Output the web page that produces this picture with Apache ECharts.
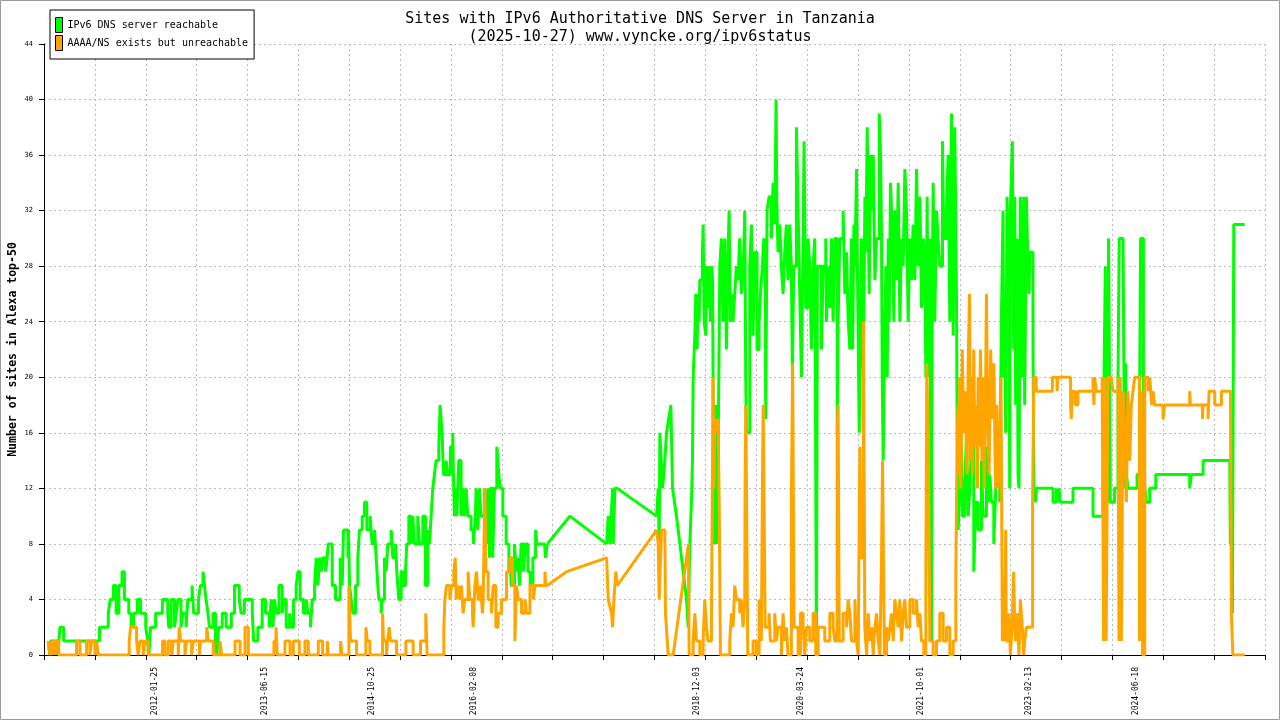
<!DOCTYPE html>
<html><head><meta charset="utf-8">
<script src="https://cdn.jsdelivr.net/npm/echarts@6/dist/echarts.min.js"></script>
<style>html,body{margin:0;padding:0;background:#fff}#c{width:1280px;height:720px}</style>
</head><body><div id="c"></div>
<script>
// ---- data (x = decimal year, y = number of sites) ----
const titleLines = ['Sites with IPv6 Authoritative DNS Server in Tanzania', '(2025-10-27) www.vyncke.org/ipv6status'];
const seriesNames = ['IPv6 DNS server reachable', 'AAAA/NS exists but unreachable'];
const yAxisName = 'Number of sites in Alexa top-50';
const xLabels = ['2012-01-25','2013-06-15','2014-10-25','2016-02-08','2018-12-03','2020-03-24','2021-10-01','2023-02-13','2024-06-18'];
const xRange = [2010.663, 2026.097];
const xTickCount = 24;
const yMin = 0, yMax = 44, yStep = 4;

const greenA = [2010.717,1, 2010.735,0, 2010.745,1, 2010.798,1, 2010.802,0, 2010.812,1, 2010.840,0, 2010.850,1, 2010.865,2, 2010.912,1, 2011.365,2, 2011.476,3, 2011.500,4, 2011.540,5, 2011.575,3, 2011.610,5, 2011.650,6, 2011.680,4, 2011.735,3, 2011.765,2, 2011.795,3, 2011.845,4, 2011.885,3, 2011.950,2, 2011.975,1, 2011.990,0, 2012.010,2, 2012.075,3, 2012.160,4, 2012.228,3, 2012.240,2, 2012.270,4, 2012.312,2, 2012.335,3, 2012.355,4, 2012.395,2, 2012.418,3, 2012.460,2, 2012.480,4, 2012.535,5, 2012.555,3, 2012.615,4, 2012.640,5, 2012.672,6, 2012.690,5, 2012.712,4, 2012.735,3, 2012.755,2, 2012.798,3, 2012.830,1, 2012.848,0, 2012.870,2, 2012.915,3, 2012.965,2, 2013.030,3, 2013.070,5, 2013.130,4, 2013.155,3, 2013.195,4, 2013.266,4, 2013.295,3, 2013.312,1, 2013.365,2, 2013.420,4, 2013.462,3, 2013.512,2, 2013.535,4, 2013.555,2, 2013.576,4, 2013.598,3, 2013.632,5, 2013.674,3, 2013.695,4, 2013.724,2, 2013.767,3, 2013.788,2, 2013.817,4, 2013.850,5, 2013.872,6, 2013.900,4, 2013.943,3, 2013.977,4, 2013.998,3, 2014.032,2, 2014.053,4, 2014.083,5, 2014.104,7, 2014.125,5, 2014.146,7, 2014.167,6, 2014.188,7, 2014.222,6, 2014.243,7, 2014.255,8, 2014.306,5, 2014.348,4, 2014.407,7, 2014.432,5, 2014.449,9, 2014.504,7, 2014.512,9, 2014.525,5, 2014.546,4, 2014.567,3, 2014.601,5, 2014.630,7, 2014.651,9, 2014.685,10, 2014.714,11, 2014.744,9, 2014.786,10, 2014.811,8, 2014.841,9, 2014.862,7, 2014.883,5, 2014.896,4, 2014.925,3, 2014.938,4, 2014.967,7, 2014.988,6, 2015.009,8, 2015.052,9, 2015.073,7, 2015.106,8, 2015.123,6, 2015.148,4, 2015.178,6, 2015.207,5, 2015.233,6, 2015.249,8, 2015.275,10, 2015.304,8, 2015.325,10, 2015.346,8, 2015.388,10, 2015.410,8, 2015.452,10, 2015.485,5, 2015.515,9, 2015.536,8, 2015.557,10, 2015.578,12, 2015.599,13, 2015.620,14, 2015.654,15, 2015.671,18, 2015.696,16, 2015.713,13, 2015.747,14, 2015.768,13, 2015.801,15, 2015.831,16, 2015.839,13, 2015.852,10, 2015.873,12, 2015.882,10, 2015.907,14, 2015.936,10, 2015.957,12, 2015.978,10, 2016.000,12, 2016.020,10, 2016.062,9, 2016.092,8, 2016.117,10, 2016.126,12, 2016.147,9, 2016.168,12, 2016.189,10, 2016.231,12, 2016.252,8, 2016.273,12, 2016.294,7, 2016.307,12, 2016.336,7, 2016.357,12, 2016.387,15, 2016.412,13, 2016.429,12, 2016.463,10, 2016.505,8, 2016.539,6, 2016.555,7, 2016.568,5, 2016.610,8, 2016.631,6, 2016.652,7, 2016.673,5, 2016.694,8, 2016.724,6, 2016.749,8, 2016.779,6, 2016.808,5, 2016.842,7, 2016.876,9, 2016.892,8, 2016.989,8, 2017.002,7, 2017.024,8];
const greenB = [2017.024,8, 2017.310,10, 2017.774,8, 2017.795,10, 2017.816,8, 2017.850,12, 2017.858,8, 2017.879,12, 2017.908,12, 2018.406,10, 2018.427,12, 2018.439,8, 2018.448,16, 2018.481,12, 2018.511,14, 2018.532,16, 2018.587,18, 2018.608,12, 2018.658,10, 2018.701,8, 2018.743,6, 2018.785,4, 2018.806,2, 2018.827,8];
const greenC = [2018.827,8, 2018.847,11, 2018.860,14, 2018.869,20, 2018.890,23, 2018.902,26, 2018.911,24, 2018.919,22, 2018.932,26, 2018.944,24, 2018.953,27, 2018.986,29, 2018.995,31, 2019.008,24, 2019.029,23, 2019.037,28, 2019.058,25, 2019.071,28, 2019.088,24, 2019.104,28, 2019.115,27, 2019.121,20, 2019.128,8, 2019.142,12, 2019.155,18, 2019.163,8, 2019.184,14, 2019.206,28, 2019.227,30, 2019.248,24, 2019.269,30, 2019.290,22, 2019.311,29, 2019.324,32, 2019.340,24, 2019.353,26, 2019.374,24, 2019.395,26, 2019.416,28, 2019.437,27, 2019.458,30, 2019.479,26, 2019.500,28, 2019.509,29, 2019.522,32, 2019.534,20, 2019.543,16, 2019.564,16, 2019.585,28, 2019.606,31, 2019.627,23, 2019.648,29, 2019.677,22, 2019.703,24, 2019.720,26, 2019.745,28, 2019.762,30, 2019.779,29, 2019.787,17, 2019.804,32, 2019.829,33, 2019.859,30, 2019.880,34, 2019.901,31, 2019.918,40, 2019.926,33, 2019.943,29, 2019.964,31, 2019.985,28, 2020.006,26, 2020.027,29, 2020.048,31, 2020.069,27, 2020.090,31, 2020.111,28, 2020.124,20, 2020.140,28, 2020.175,38, 2020.196,32, 2020.217,26, 2020.238,20, 2020.259,30, 2020.271,37, 2020.292,25, 2020.322,30, 2020.343,28, 2020.364,22, 2020.385,28, 2020.406,30, 2020.419,12, 2020.427,0, 2020.440,28, 2020.491,22, 2020.512,28, 2020.545,30, 2020.554,24, 2020.575,28, 2020.596,25, 2020.617,30, 2020.638,24, 2020.659,30, 2020.689,16, 2020.701,24, 2020.722,30, 2020.764,32, 2020.785,26, 2020.807,29, 2020.828,24, 2020.849,22, 2020.870,30, 2020.883,22, 2020.900,31, 2020.912,28, 2020.933,35, 2020.942,29, 2020.967,16, 2020.984,24, 2020.996,30, 2021.018,20, 2021.039,33, 2021.051,29, 2021.068,38, 2021.093,26, 2021.110,36, 2021.123,32, 2021.144,36, 2021.165,27, 2021.186,30, 2021.220,39, 2021.237,36, 2021.249,30, 2021.258,20, 2021.270,14, 2021.291,24, 2021.304,28, 2021.321,20, 2021.334,30, 2021.346,24, 2021.363,34, 2021.388,30, 2021.405,24, 2021.418,32, 2021.439,27, 2021.460,34, 2021.481,24, 2021.502,30, 2021.523,28, 2021.544,35, 2021.565,32, 2021.586,24, 2021.607,30, 2021.628,27, 2021.649,31, 2021.671,27, 2021.692,35, 2021.713,28, 2021.734,33, 2021.755,25, 2021.776,30, 2021.797,28, 2021.810,20, 2021.826,33, 2021.839,20, 2021.860,30, 2021.881,1, 2021.890,26, 2021.902,34, 2021.923,24, 2021.944,32, 2021.965,30, 2021.986,28, 2022.020,37, 2022.037,30, 2022.071,32, 2022.092,36, 2022.113,24, 2022.134,39, 2022.155,23, 2022.176,38, 2022.197,26, 2022.206,16, 2022.218,9, 2022.239,12, 2022.260,15, 2022.273,10, 2022.302,12, 2022.324,16, 2022.345,10, 2022.366,12, 2022.387,15, 2022.416,6, 2022.441,11, 2022.471,9, 2022.513,14, 2022.534,10, 2022.576,15, 2022.597,11, 2022.618,13, 2022.639,11, 2022.669,8, 2022.694,12, 2022.711,14, 2022.745,11, 2022.765,24, 2022.786,32, 2022.795,20, 2022.807,26, 2022.820,16, 2022.837,33, 2022.849,28, 2022.862,30, 2022.870,12, 2022.879,32, 2022.904,37, 2022.921,22, 2022.934,33, 2022.946,18, 2022.963,30, 2022.976,13, 2022.988,12, 2023.005,33, 2023.018,28, 2023.030,20, 2023.047,33, 2023.060,18, 2023.081,33, 2023.102,28, 2023.115,26, 2023.123,29, 2023.165,22, 2023.178,12, 2023.199,11, 2023.207,12, 2023.418,11, 2023.460,12, 2023.469,11, 2023.494,12, 2023.511,11, 2023.671,12, 2023.924,10, 2024.050,12, 2024.065,21, 2024.080,28, 2024.092,11, 2024.120,30, 2024.143,11, 2024.197,12, 2024.240,20, 2024.255,30, 2024.303,30, 2024.324,12, 2024.336,21, 2024.345,13, 2024.366,12, 2024.480,13, 2024.513,19, 2024.525,30, 2024.560,18, 2024.577,12, 2024.598,11, 2024.640,12, 2024.716,13, 2025.145,12, 2025.166,13, 2025.314,14, 2025.651,14, 2025.659,8, 2025.685,3, 2025.702,31, 2025.841,31];

const orangeA = [2010.717,1, 2010.738,0, 2010.745,1, 2010.765,0, 2010.775,1, 2010.805,0, 2010.815,1, 2010.850,0, 2011.075,1, 2011.118,0, 2011.202,1, 2011.244,0, 2011.265,1, 2011.307,0, 2011.328,1, 2011.349,0, 2011.741,1, 2011.758,2, 2011.834,1, 2011.855,0, 2011.876,1, 2011.918,0, 2011.939,1, 2011.981,0, 2012.162,1, 2012.192,0, 2012.234,1, 2012.276,0, 2012.297,1, 2012.360,0, 2012.373,2, 2012.390,1, 2012.445,0, 2012.466,1, 2012.529,0, 2012.550,1, 2012.626,0, 2012.643,1, 2012.719,2, 2012.740,1, 2012.803,0, 2012.887,1, 2012.908,0, 2013.077,1, 2013.140,0, 2013.203,2, 2013.245,0, 2013.569,1, 2013.595,2, 2013.611,0, 2013.708,1, 2013.772,0, 2013.814,1, 2013.889,0, 2013.961,1, 2014.003,0, 2014.130,1, 2014.185,0, 2014.244,1, 2014.256,0, 2014.412,1, 2014.429,0, 2014.517,5, 2014.538,1, 2014.614,0, 2014.732,2, 2014.749,1, 2014.783,0, 2014.943,3, 2014.955,1, 2014.993,0, 2015.006,1, 2015.027,2, 2015.044,1, 2015.120,0, 2015.238,1, 2015.330,0, 2015.423,1, 2015.490,3, 2015.507,0, 2015.718,2, 2015.731,4, 2015.752,5, 2015.794,4, 2015.815,5, 2015.844,6, 2015.862,7, 2015.874,4, 2015.899,5, 2015.920,4, 2015.941,5, 2015.962,3, 2015.983,4, 2016.025,6, 2016.046,4, 2016.080,3, 2016.089,2, 2016.110,5, 2016.131,6, 2016.152,4, 2016.181,5, 2016.206,3, 2016.215,4, 2016.236,12, 2016.250,6, 2016.278,4, 2016.320,3, 2016.341,5, 2016.375,2, 2016.404,3, 2016.447,4, 2016.510,6, 2016.552,7, 2016.586,5, 2016.615,1, 2016.636,5, 2016.657,4, 2016.699,3, 2016.742,4, 2016.763,3, 2016.805,5, 2016.847,4, 2016.868,5, 2016.994,6, 2017.007,5, 2017.024,5];
const orangeB = [2017.024,5, 2017.268,6, 2017.774,7, 2017.795,4, 2017.837,3, 2017.850,2, 2017.866,4, 2017.892,6, 2017.908,5, 2018.406,9, 2018.427,8, 2018.439,4, 2018.469,9, 2018.511,9, 2018.519,3, 2018.553,0, 2018.616,0, 2018.810,8, 2018.818,0];
const orangeC = [2018.818,0, 2018.869,1, 2018.890,3, 2018.911,1, 2018.953,0, 2018.995,1, 2019.016,4, 2019.037,2, 2019.058,1, 2019.100,2, 2019.121,20, 2019.130,12, 2019.142,17, 2019.163,16, 2019.184,17, 2019.200,10, 2019.214,0, 2019.332,1, 2019.353,3, 2019.374,2, 2019.395,5, 2019.416,4, 2019.458,3, 2019.479,4, 2019.500,2, 2019.522,4, 2019.526,12, 2019.535,18, 2019.560,0, 2019.627,1, 2019.669,0, 2019.703,4, 2019.720,3, 2019.732,1, 2019.745,12, 2019.755,18, 2019.780,2, 2019.829,3, 2019.846,1, 2019.901,3, 2019.922,1, 2019.943,2, 2019.985,0, 2020.006,3, 2020.027,1, 2020.048,2, 2020.069,0, 2020.111,11, 2020.127,21, 2020.145,2, 2020.196,0, 2020.225,3, 2020.259,2, 2020.280,0, 2020.301,2, 2020.343,1, 2020.385,3, 2020.419,0, 2020.448,2, 2020.491,2, 2020.533,1, 2020.596,3, 2020.638,2, 2020.659,1, 2020.689,16, 2020.701,18, 2020.715,1, 2020.764,3, 2020.807,2, 2020.828,4, 2020.849,3, 2020.870,1, 2020.912,4, 2020.933,1, 2020.954,0, 2020.975,15, 2020.990,7, 2021.020,24, 2021.038,2, 2021.060,0, 2021.081,3, 2021.102,1, 2021.123,2, 2021.144,0, 2021.165,2, 2021.186,3, 2021.207,1, 2021.228,0, 2021.249,7, 2021.262,14, 2021.285,0, 2021.312,2, 2021.334,1, 2021.355,2, 2021.376,3, 2021.397,1, 2021.418,4, 2021.439,3, 2021.460,2, 2021.481,4, 2021.502,1, 2021.523,3, 2021.544,4, 2021.565,2, 2021.607,4, 2021.649,3, 2021.692,4, 2021.713,2, 2021.734,3, 2021.755,1, 2021.784,0, 2021.810,6, 2021.822,21, 2021.840,15, 2021.860,1, 2021.902,0, 2021.944,1, 2021.986,3, 2022.029,1, 2022.071,2, 2022.113,0, 2022.155,1, 2022.189,6, 2022.206,16, 2022.218,18, 2022.228,13, 2022.239,20, 2022.250,12, 2022.260,15, 2022.270,22, 2022.290,16, 2022.310,19, 2022.330,13, 2022.345,21, 2022.362,26, 2022.375,14, 2022.387,20, 2022.400,13, 2022.416,22, 2022.430,15, 2022.450,18, 2022.462,12, 2022.471,20, 2022.485,15, 2022.500,22, 2022.520,14, 2022.534,20, 2022.550,12, 2022.565,19, 2022.576,26, 2022.590,18, 2022.610,13, 2022.630,22, 2022.650,17, 2022.670,21, 2022.690,12, 2022.703,18, 2022.724,12, 2022.740,15, 2022.757,20, 2022.765,15, 2022.778,1, 2022.795,3, 2022.807,1, 2022.820,9, 2022.828,1, 2022.862,3, 2022.879,0, 2022.900,2, 2022.921,6, 2022.934,2, 2022.946,1, 2022.963,3, 2022.988,0, 2023.005,4, 2023.030,2, 2023.047,0, 2023.060,1, 2023.081,2, 2023.160,11, 2023.175,20, 2023.207,19, 2023.410,20, 2023.469,19, 2023.481,20, 2023.641,18, 2023.650,17, 2023.662,19, 2023.700,18, 2023.734,19, 2023.924,20, 2023.935,18, 2023.945,20, 2023.966,19, 2024.040,20, 2024.058,1, 2024.071,20, 2024.090,1, 2024.113,20, 2024.155,20, 2024.176,19, 2024.240,20, 2024.252,1, 2024.269,20, 2024.282,1, 2024.303,19, 2024.324,16, 2024.345,11, 2024.366,19, 2024.387,14, 2024.408,18, 2024.429,19, 2024.450,20, 2024.510,1, 2024.534,19, 2024.550,0, 2024.577,20, 2024.619,19, 2024.640,20, 2024.665,18, 2024.682,19, 2024.703,18, 2024.808,17, 2024.829,18, 2025.145,19, 2025.154,18, 2025.306,17, 2025.314,18, 2025.377,17, 2025.390,19, 2025.461,18, 2025.546,19, 2025.660,19, 2025.672,3, 2025.690,0, 2025.841,0];

const GREEN = '#00ff00', ORANGE = '#ffa500';
const MONO = 'DejaVu Sans Mono';

// ---- helpers ----
function yearToMs(v) {
  const y = Math.floor(v);
  const a = Date.UTC(y, 0, 1), b = Date.UTC(y + 1, 0, 1);
  return a + (v - y) * (b - a);
}
function dateToMs(s) { const p = s.split('-').map(Number); return Date.UTC(p[0], p[1] - 1, p[2]); }
function pairs(flat) { const out = []; for (let i = 0; i < flat.length; i += 2) out.push([yearToMs(flat[i]), flat[i + 1]]); return out; }
function pad(n) { return (n < 10 ? '0' : '') + n; }
function fmtDate(ms) { const d = new Date(Math.round(ms / 86400000) * 86400000); return d.getUTCFullYear() + '-' + pad(d.getUTCMonth() + 1) + '-' + pad(d.getUTCDate()); }

const xMin = yearToMs(xRange[0]), xMax = yearToMs(xRange[1]);
const xTicks = [];
for (let i = 0; i <= xTickCount; i++) xTicks.push(Math.min(xMax, xMin + i * (xMax - xMin) / xTickCount));
const xLabelValues = xLabels.map(dateToMs);

function mk(name, color, flat, step) {
  return { type: 'line', name: name, data: pairs(flat), step: step ? 'end' : false,
    showSymbol: false, symbol: 'none', silent: true, animation: false,
    lineStyle: { color: color, width: 3 }, itemStyle: { color: color } };
}

const chart = echarts.init(document.getElementById('c'), null, { renderer: 'canvas' });
chart.setOption({
  backgroundColor: '#fff',
  animation: false,
  title: { left: 'center', top: 5, text: titleLines.join('\n'),
    textStyle: { fontFamily: MONO, fontSize: 15, fontWeight: 'normal', color: '#000', lineHeight: 18 } },
  legend: { left: 50, top: 10, orient: 'vertical', icon: 'rect', itemWidth: 7, itemHeight: 15, itemGap: 2,
    padding: [7, 6, 8, 5], backgroundColor: '#fff', borderColor: '#000', borderWidth: 1, borderRadius: 0,
    itemStyle: { borderColor: '#000', borderWidth: 1 },
    textStyle: { fontFamily: MONO, fontSize: 10, color: '#000' }, data: seriesNames, selectedMode: false },
  grid: { left: 44, right: 15, top: 44, bottom: 65, containLabel: false, outerBoundsMode: 'none' },
  xAxis: { type: 'value', min: xMin, max: xMax,
    axisLine: { show: true, lineStyle: { color: '#000', width: 1 } },
    axisTick: { show: true, customValues: xTicks, length: 5, lineStyle: { color: '#000' } },
    axisLabel: { customValues: xLabelValues, rotate: 90, formatter: fmtDate, fontSize: 8, fontFamily: MONO, color: '#000', margin: 12 },
    splitLine: { show: true, lineStyle: { type: [2, 3], color: '#bbb', width: 1 } } },
  yAxis: { type: 'value', min: yMin, max: yMax, interval: yStep,
    name: yAxisName, nameLocation: 'middle', nameGap: 25, nameMoveOverlap: false,
    nameTextStyle: { fontFamily: MONO, fontSize: 11.5, fontWeight: 'bold', color: '#000' },
    axisLine: { show: true, lineStyle: { color: '#000', width: 1 } },
    axisTick: { show: true, length: 5, lineStyle: { color: '#000' } },
    axisLabel: { fontSize: 7, fontFamily: MONO, color: '#000', margin: 11 },
    splitLine: { show: true, lineStyle: { type: [2, 3], color: '#bbb', width: 1 } } },
  graphic: [{ type: 'rect', silent: true, z: 100, shape: { x: 0.5, y: 0.5, width: 1279, height: 719 }, style: { fill: 'none', stroke: '#999', lineWidth: 1 } }],
  series: [
    mk(seriesNames[0], GREEN, greenA, true),
    mk(seriesNames[0], GREEN, greenB, false),
    mk(seriesNames[0], GREEN, greenC, true),
    mk(seriesNames[1], ORANGE, orangeA, true),
    mk(seriesNames[1], ORANGE, orangeB, false),
    mk(seriesNames[1], ORANGE, orangeC, true)
  ]
});
</script>
</body></html>
